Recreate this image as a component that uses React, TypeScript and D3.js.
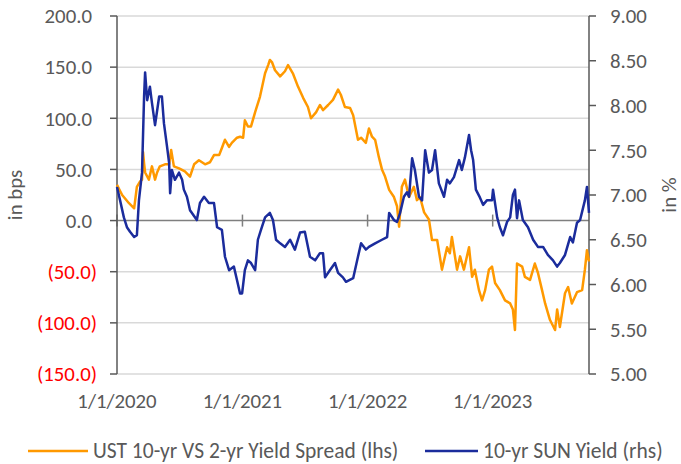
import React from "react";
import * as d3 from "d3";

// UST 10-yr vs 2-yr spread (bps, left axis)
const spreadDates = [
  "2020-01-01","2020-01-16","2020-02-05","2020-02-20","2020-02-28","2020-03-08","2020-03-14","2020-03-17","2020-03-20","2020-03-23",
  "2020-04-03","2020-04-12","2020-04-21","2020-04-27","2020-05-05","2020-05-20","2020-06-01","2020-06-07","2020-06-15","2020-06-30",
  "2020-07-17","2020-08-01","2020-08-13","2020-08-27","2020-09-14","2020-09-28","2020-10-10","2020-10-25","2020-11-02","2020-11-11",
  "2020-11-23","2020-12-01","2020-12-16","2020-12-25","2021-01-03","2021-01-08","2021-01-17","2021-01-26","2021-02-07","2021-02-21",
  "2021-03-08","2021-03-17","2021-03-22","2021-03-28","2021-04-06","2021-04-21","2021-05-05","2021-05-14","2021-05-28","2021-06-12",
  "2021-06-27","2021-07-11","2021-07-20","2021-08-04","2021-08-15","2021-08-24","2021-09-08","2021-09-22","2021-10-07","2021-10-15",
  "2021-10-27","2021-11-11","2021-11-20","2021-12-04","2021-12-13","2021-12-27","2022-01-05","2022-01-14","2022-01-23","2022-02-03",
  "2022-02-12","2022-02-21","2022-03-05","2022-03-19","2022-03-28","2022-04-03","2022-04-11","2022-04-20","2022-05-02","2022-05-16",
  "2022-05-25","2022-06-03","2022-06-15","2022-06-29","2022-07-08","2022-07-23","2022-08-06","2022-08-21","2022-08-29","2022-09-04",
  "2022-09-19","2022-09-28","2022-10-09","2022-10-24","2022-11-02","2022-11-10","2022-11-22","2022-12-01","2022-12-10","2022-12-21",
  "2022-12-30","2023-01-08","2023-01-22","2023-02-06","2023-02-21","2023-03-01","2023-03-07","2023-03-13","2023-03-28","2023-04-05",
  "2023-04-20","2023-05-04","2023-05-13","2023-05-25","2023-06-03","2023-06-17","2023-07-02","2023-07-08","2023-07-16","2023-07-31",
  "2023-08-09","2023-08-20","2023-09-04","2023-09-19","2023-09-27","2023-10-03","2023-10-09"
];
const spreadValues = [
  35,25,17,12,33,38,40,67,56,47,
  40,53,40,47,53,55,55,69,53,51,
  48,43,55,59,55,57,64,64,71,79,
  72,76,81,82,81,98,92,92,106,121,
  144,152,157,155,147,141,146,152,144,131,
  120,111,100,106,113,108,113,118,128,123,
  111,110,103,79,81,76,90,82,79,62,
  50,43,30,23,14,-6,33,40,23,33,
  20,23,8,1,-19,-19,-48,-26,-32,-16,
  -48,-35,-48,-26,-55,-48,-68,-78,-68,-48,
  -45,-61,-68,-78,-81,-87,-107,-42,-45,-55,
  -58,-42,-51,-68,-81,-97,-107,-87,-104,-71,
  -65,-81,-70,-68,-48,-29,-40
];

// 10-yr SUN yield (%, right axis)
const sunDates = [
  "2020-01-01","2020-01-10","2020-01-21","2020-01-30","2020-02-08","2020-02-20","2020-02-28","2020-03-05","2020-03-14","2020-03-20",
  "2020-03-23","2020-03-29","2020-04-06","2020-04-12","2020-04-21","2020-05-03","2020-05-11","2020-05-17","2020-05-26","2020-06-01",
  "2020-06-04","2020-06-09","2020-06-18","2020-06-30","2020-07-09","2020-07-14","2020-07-23","2020-08-01","2020-08-21","2020-08-30",
  "2020-09-11","2020-09-25","2020-10-10","2020-10-19","2020-11-02","2020-11-11","2020-11-23","2020-12-07","2020-12-16","2020-12-25",
  "2020-12-31","2021-01-08","2021-01-17","2021-01-26","2021-02-07","2021-02-15","2021-02-24","2021-03-08","2021-03-22","2021-03-31",
  "2021-04-09","2021-04-21","2021-05-05","2021-05-20","2021-06-03","2021-06-18","2021-07-02","2021-07-17","2021-08-01","2021-08-15",
  "2021-08-24","2021-08-30","2021-09-13","2021-09-28","2021-10-07","2021-10-21","2021-10-30","2021-11-20","2021-12-04","2021-12-13",
  "2021-12-27","2022-01-05","2022-01-23","2022-02-12","2022-02-27","2022-03-05","2022-03-19","2022-03-28","2022-04-06","2022-04-17",
  "2022-04-26","2022-05-02","2022-05-11","2022-05-19","2022-05-31","2022-06-09","2022-06-18","2022-06-29","2022-07-08","2022-07-17",
  "2022-07-28","2022-08-12","2022-08-21","2022-08-29","2022-09-10","2022-09-25","2022-10-03","2022-10-12","2022-10-24","2022-10-30",
  "2022-11-05","2022-11-13","2022-11-25","2022-12-04","2022-12-15","2022-12-30","2023-01-02","2023-01-14","2023-01-22","2023-01-31",
  "2023-02-12","2023-02-21","2023-03-01","2023-03-07","2023-03-13","2023-03-19","2023-03-30","2023-04-14","2023-04-29","2023-05-13",
  "2023-05-28","2023-06-11","2023-06-26","2023-07-08","2023-07-16","2023-07-31","2023-08-15","2023-08-23","2023-09-04","2023-09-13",
  "2023-09-27","2023-10-03","2023-10-09"
];
const sunValues = [
  7.09,6.94,6.75,6.64,6.59,6.53,6.55,6.94,7.25,8.10,
  8.37,8.06,8.21,8.03,7.78,8.10,8.10,7.80,7.54,7.36,
  7.02,7.28,7.17,7.25,7.17,7.06,6.98,6.83,6.72,6.91,
  6.98,6.91,6.91,6.64,6.61,6.31,6.16,6.20,6.05,5.90,
  5.90,6.16,6.27,6.24,6.16,6.50,6.61,6.75,6.80,6.72,
  6.50,6.46,6.42,6.50,6.39,6.58,6.59,6.31,6.27,6.35,
  6.35,6.08,6.16,6.24,6.13,6.08,6.03,6.07,6.31,6.46,
  6.39,6.42,6.46,6.50,6.53,6.80,6.72,6.70,6.80,6.98,
  7.03,6.98,7.41,7.28,6.98,6.94,7.50,7.25,7.28,7.50,
  7.13,6.98,7.17,7.13,7.20,7.39,7.28,7.42,7.67,7.50,
  7.39,7.06,6.97,6.89,6.94,6.94,7.06,6.75,6.64,6.55,
  6.70,6.75,7.00,7.06,6.74,6.94,6.72,6.64,6.50,6.42,
  6.42,6.33,6.27,6.20,6.24,6.33,6.53,6.47,6.69,6.72,
  6.94,7.09,6.80
];

const leftTicks = [200, 150, 100, 50, 0, -50, -100, -150];
const rightTicks = [9.0, 8.5, 8.0, 7.5, 7.0, 6.5, 6.0, 5.5, 5.0];
const yearTicks = ["2020-01-01", "2021-01-01", "2022-01-01", "2023-01-01"];
const seriesNames = ["UST 10-yr VS 2-yr Yield Spread (lhs)", "10-yr SUN Yield (rhs)"];
const axisTitles = ["in bps", "in %"];

const W = 681, H = 464;
const FONT = "Carlito, Calibri, 'Open Sans', sans-serif";
const TEXT = "#595959";
const ORANGE = "#FF9900";
const BLUE = "#1B2C9C";

export default function App() {
  const parse = d3.timeParse("%Y-%m-%d");
  const x = d3.scaleTime().domain([parse("2020-01-01")!, parse("2023-10-09")!]).range([117, 589]);
  const yL = d3.scaleLinear().domain([-150, 200]).range([374, 16]);
  const yR = d3.scaleLinear().domain([5, 9]).range([374, 16]);

  const spread = spreadDates.map((d, i) => ({ d: parse(d)!, v: spreadValues[i] }));
  const sun = sunDates.map((d, i) => ({ d: parse(d)!, v: sunValues[i] }));

  const lineL = d3.line<{ d: Date; v: number }>().x(p => x(p.d)).y(p => yL(p.v));
  const lineR = d3.line<{ d: Date; v: number }>().x(p => x(p.d)).y(p => yR(p.v));

  const fmtL = (v: number) => (v < 0 ? `(${Math.abs(v).toFixed(1)})` : v.toFixed(1));
  const [x0, x1] = x.range();
  const fs = 20.8;
  const lfs = 21.5;

  return (
    <svg width={W} height={H} style={{ position: "absolute", left: 0, top: 0, background: "#fff" }}
      fontFamily={FONT}>
      <rect width={W} height={H} fill="#fff" />
      {/* gridlines */}
      {leftTicks.filter(t => t !== 0).map(t => (
        <line key={"g" + t} x1={x0} x2={x1} y1={yL(t)} y2={yL(t)} stroke="#D9D9D9" strokeWidth={1.5} />
      ))}
      {/* zero line with year ticks */}
      <line x1={x0} x2={x1} y1={yL(0)} y2={yL(0)} stroke="#7F7F7F" strokeWidth={1.5} />
      {yearTicks.map(t => (
        <line key={"yt" + t} x1={x(parse(t)!)} x2={x(parse(t)!)} y1={yL(0) - 6} y2={yL(0) + 6} stroke="#7F7F7F" strokeWidth={1.5} />
      ))}
      {/* left axis */}
      <line x1={x0} x2={x0} y1={yL(200)} y2={yL(-150)} stroke="#595959" strokeWidth={1.5} />
      {leftTicks.map(t => (
        <g key={"lt" + t}>
          <line x1={x0 - 7} x2={x0} y1={yL(t)} y2={yL(t)} stroke="#595959" strokeWidth={1.5} />
          <text x={t < 0 ? 97 : 92} y={yL(t)} dy="0.35em" textAnchor="end" fontSize={fs}
            fill={t < 0 ? "#FF0000" : TEXT}>{fmtL(t)}</text>
        </g>
      ))}
      {/* right axis */}
      <line x1={x1} x2={x1} y1={yR(9)} y2={yR(5)} stroke="#595959" strokeWidth={1.5} />
      {rightTicks.map(t => (
        <g key={"rt" + t}>
          <line x1={x1} x2={x1 + 7} y1={yR(t)} y2={yR(t)} stroke="#595959" strokeWidth={1.5} />
          <text x={610} y={yR(t)} dy="0.35em" textAnchor="start" fontSize={fs} fill={TEXT}>{t.toFixed(2)}</text>
        </g>
      ))}
      {/* x labels */}
      {yearTicks.map(t => (
        <text key={"xl" + t} x={x(parse(t)!)} y={408} textAnchor="middle" fontSize={fs} fill={TEXT}>
          {d3.timeFormat("%-m/%-d/%Y")(parse(t)!)}
        </text>
      ))}
      {/* axis titles */}
      <text transform={`translate(22,195) rotate(-90)`} textAnchor="middle" fontSize={fs} fill={TEXT}>{axisTitles[0]}</text>
      <text transform={`translate(676,195) rotate(-90)`} textAnchor="middle" fontSize={fs} fill={TEXT}>{axisTitles[1]}</text>
      {/* series */}
      <path d={lineL(spread) || ""} fill="none" stroke={ORANGE} strokeWidth={2.5} strokeLinejoin="round" />
      <path d={lineR(sun) || ""} fill="none" stroke={BLUE} strokeWidth={2.5} strokeLinejoin="round" />
      {/* legend */}
      <line x1={28} x2={88} y1={451} y2={451} stroke={ORANGE} strokeWidth={2.5} />
      <text x={93} y={458} fontSize={lfs} fill={TEXT}>{seriesNames[0]}</text>
      <line x1={425} x2={478} y1={451} y2={451} stroke={BLUE} strokeWidth={2.5} />
      <text x={483} y={458} fontSize={lfs} fill={TEXT}>{seriesNames[1]}</text>
    </svg>
  );
}
